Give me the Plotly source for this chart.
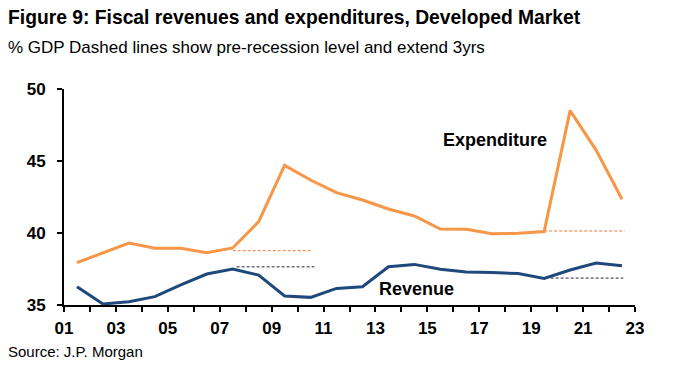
import plotly.graph_objects as go

years = [2001.5 + i for i in range(22)]
expenditure = [37.94, 38.6, 39.3, 38.94, 38.94, 38.63, 38.96, 40.79, 44.7, 43.68, 42.8,
               42.29, 41.67, 41.18, 40.28, 40.26, 39.95, 39.98, 40.1, 48.5, 45.76, 42.34]
revenue = [36.27, 35.07, 35.23, 35.58, 36.39, 37.15, 37.5, 37.08, 35.63, 35.53, 36.15,
           36.27, 37.66, 37.82, 37.48, 37.29, 37.25, 37.18, 36.85, 37.43, 37.92, 37.73]

exp_dash1_x = [2007.5, 2010.5]
exp_dash1_y = [38.77, 38.77]
rev_dash1_x = [2007.65, 2010.65]
rev_dash1_y = [37.65, 37.65]
exp_dash2_x = [2019.5, 2022.6]
exp_dash2_y = [40.14, 40.14]
rev_dash2_x = [2019.75, 2022.55]
rev_dash2_y = [36.87, 36.87]

tick_vals = list(range(2001, 2024))
tick_text = [("%02d" % (v % 100)) if v % 2 == 1 else "" for v in tick_vals]
y_ticks = [35, 40, 45, 50]

ORANGE = "#F79646"
NAVY = "#1F497D"
FONT = "Liberation Sans Narrow, Arial Narrow, Liberation Sans, Arial"

fig = go.Figure()
fig.add_trace(go.Scatter(x=exp_dash1_x, y=exp_dash1_y, mode="lines",
                         line=dict(color="#EE7733", width=1, dash="3px,2px"), hoverinfo="skip"))
fig.add_trace(go.Scatter(x=exp_dash2_x, y=exp_dash2_y, mode="lines",
                         line=dict(color="#EE7733", width=1, dash="3px,2px"), hoverinfo="skip"))
fig.add_trace(go.Scatter(x=rev_dash1_x, y=rev_dash1_y, mode="lines",
                         line=dict(color="#2a2a40", width=1, dash="3px,2px"), hoverinfo="skip"))
fig.add_trace(go.Scatter(x=rev_dash2_x, y=rev_dash2_y, mode="lines",
                         line=dict(color="#2a2a40", width=1, dash="3px,2px"), hoverinfo="skip"))
fig.add_trace(go.Scatter(x=years, y=expenditure, mode="lines", name="Expenditure",
                         line=dict(color=ORANGE, width=3)))
fig.add_trace(go.Scatter(x=years, y=revenue, mode="lines", name="Revenue",
                         line=dict(color=NAVY, width=3)))

L, R, T, B = 64, 40, 89, 61
pw = 675 - L - R
ph = 366 - T - B

def px(x):
    return (x - L) / pw

def py(y):
    return (366 - B - y) / ph

fig.update_layout(
    width=675, height=366,
    margin=dict(l=L, r=R, t=T, b=B),
    plot_bgcolor="white", paper_bgcolor="white",
    showlegend=False,
    font=dict(family=FONT, color="black"),
    xaxis=dict(range=[2001, 2023], tickvals=tick_vals, ticktext=tick_text,
               ticks="outside", ticklen=5, tickwidth=1.5, tickcolor="black",
               showline=True, linecolor="black", linewidth=2, showgrid=False,
               zeroline=False, ticklabelstandoff=2,
               tickfont=dict(size=17, family=FONT, weight="bold")),
    yaxis=dict(range=[35, 50], tickvals=y_ticks,
               ticks="outside", ticklen=5, tickwidth=1.5, tickcolor="black",
               showline=True, linecolor="black", linewidth=2, showgrid=False,
               zeroline=False, ticklabelstandoff=8,
               tickfont=dict(size=17, family=FONT, weight="bold")),
    annotations=[
        dict(text="<b>Figure 9: Fiscal revenues and expenditures, Developed Market</b>",
             xref="paper", yref="paper", x=px(6), y=py(17), xanchor="left", yanchor="middle",
             showarrow=False, font=dict(size=19.3, family=FONT)),
        dict(text="% GDP Dashed lines show pre-recession level and extend 3yrs",
             xref="paper", yref="paper", x=px(6), y=py(47), xanchor="left", yanchor="middle",
             showarrow=False, font=dict(size=17, family=FONT)),
        dict(text="Source: J.P. Morgan",
             xref="paper", yref="paper", x=px(6), y=py(351), xanchor="left", yanchor="middle",
             showarrow=False, font=dict(size=15, family=FONT)),
        dict(text="<b>Expenditure</b>", x=2017.6, y=46.45, xref="x", yref="y",
             showarrow=False, font=dict(size=18, family=FONT)),
        dict(text="<b>Revenue</b>", x=2014.6, y=36.1, xref="x", yref="y",
             showarrow=False, font=dict(size=18, family=FONT)),
    ],
)

fig.write_html("out.html", config={"displayModeBar": False},
               post_script="document.body.style.margin='0';")
